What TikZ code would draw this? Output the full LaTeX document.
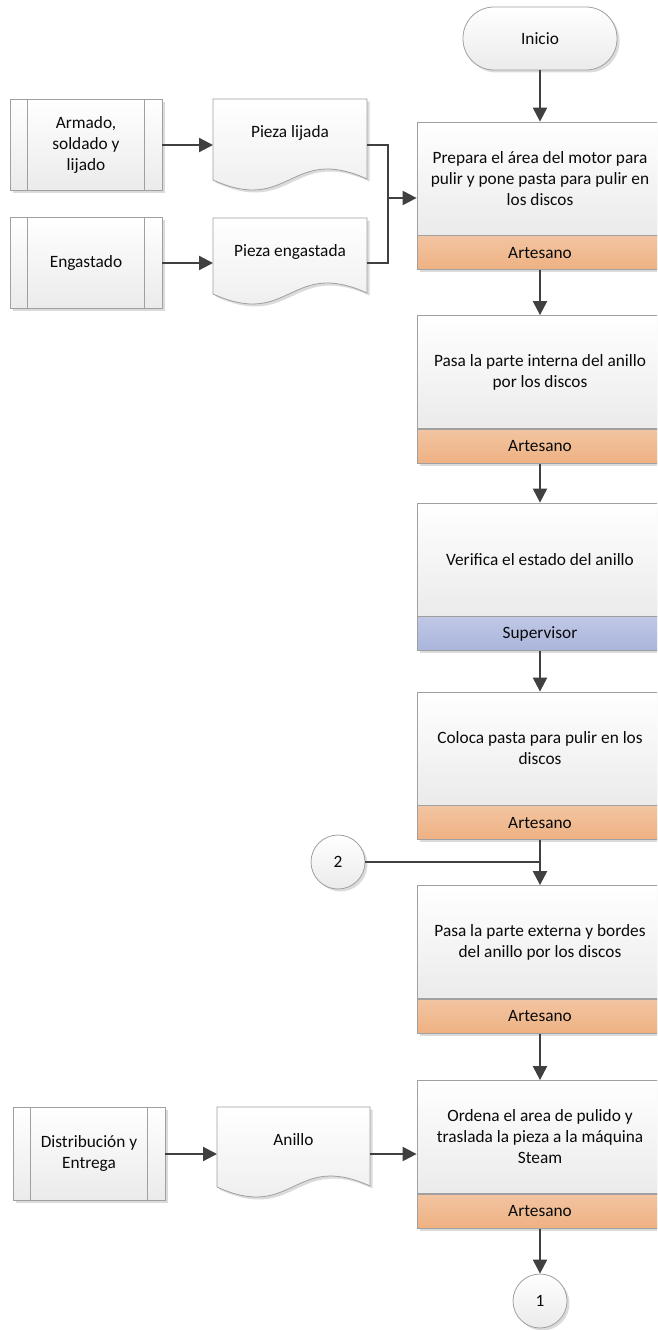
\documentclass[tikz,border=0pt]{standalone}
\usepackage{fontspec}
\setmainfont{Carlito}
\usetikzlibrary{arrows.meta,shadows}
\definecolor{ln}{HTML}{404040}
\definecolor{bd}{HTML}{A0A0A0}
\definecolor{orng}{HTML}{EEB182}
\definecolor{blu}{HTML}{AAB5DC}
\definecolor{txt}{HTML}{0A0A0A}
\tikzset{
  shp/.style={draw=bd, line width=0.8pt, top color=white, bottom color=black!8,
    drop shadow={shadow xshift=2.5pt, shadow yshift=-2.5pt, opacity=0.2, fill=black!70}},
  txtf/.style={font=\fontsize{17.3}{21}\selectfont, text=txt, align=center},
  task/.style={shp, txtf, minimum width=246pt, minimum height=113pt, inner sep=0pt},
  lane/.style={draw=bd, line width=0.8pt, txtf, minimum width=246pt, minimum height=34pt, inner sep=0pt,
    drop shadow={shadow xshift=2.5pt, shadow yshift=-2.5pt, opacity=0.2, fill=black!70}},
  art/.style={lane, top color=orng!75!white, bottom color=orng},
  sup/.style={lane, top color=blu!75!white, bottom color=blu},
  subp/.style={shp, txtf, minimum width=152pt, minimum height=91pt, inner sep=0pt},
  term/.style={shp, txtf, minimum width=154pt, minimum height=63pt, rounded corners=31pt, inner sep=0pt},
  conc/.style={shp, txtf, circle, minimum size=54pt, inner sep=0pt},
  conn/.style={line width=2.2pt, draw=ln},
  arr/.style={conn, -{Triangle[length=14pt,width=14pt]}},
  inl/.style={draw=bd, line width=0.8pt},
}
\begin{document}
\begin{tikzpicture}[x=1pt,y=-1pt]
\clip (0,0) rectangle (657,1330);
\fill[white] (0,0) rectangle (657,1330);

% start
\node[term] (ini) at (540,38.5) {Inicio};

% task boxes
\node[task] (b1) at (540,178.5) {Prepara el área del motor para\\pulir y pone pasta para pulir en\\los discos};
\node[art, anchor=north] (b1l) at (b1.south) {Artesano};
\node[task] (b2) at (540,372) {Pasa la parte interna del anillo\\por los discos};
\node[art, anchor=north] (b2l) at (b2.south) {Artesano};
\node[task] (b3) at (540,559.5) {Verifica el estado del anillo};
\node[sup, anchor=north] (b3l) at (b3.south) {Supervisor};
\node[task] (b4) at (540,748.5) {Coloca pasta para pulir en los\\discos};
\node[art, anchor=north] (b4l) at (b4.south) {Artesano};
\node[task] (b5) at (540,942) {Pasa la parte externa y bordes\\del anillo por los discos};
\node[art, anchor=north] (b5l) at (b5.south) {Artesano};
\node[task] (b6) at (540,1137) {Ordena el area de pulido y\\traslada la pieza a la máquina\\Steam};
\node[art, anchor=north] (b6l) at (b6.south) {Artesano};

% connectors (off-page)
\node[conc] (c2) at (338,862) {2};
\node[conc] (c1) at (540,1301) {1};

% subprocesses
\node[subp] (s1) at (86,145) {Armado,\\soldado y\\lijado};
\node[subp] (s2) at (86,263) {Engastado};
\node[subp, minimum height=93pt] (s3) at (89,1153.5) {Distribución y\\Entrega};
\foreach \s in {s1,s2,s3}{
  \draw[inl] ([xshift=18pt]\s.north west) -- ([xshift=18pt]\s.south west);
  \draw[inl] ([xshift=-18pt]\s.north east) -- ([xshift=-18pt]\s.south east);
}

% documents
\path[shp] (213,99) -- (367,99) -- (367,179) .. controls (290,144) and (290,215) .. (213,180) -- cycle;
\node[txtf] (d1) at (290,133) {Pieza lijada};
\path[shp] (213,218) -- (367,218) -- (367,293) .. controls (290,258) and (290,329) .. (213,294) -- cycle;
\node[txtf] (d2) at (290,252) {Pieza engastada};
\path[shp] (217,1107) -- (370,1107) -- (370,1186) .. controls (293.5,1151) and (293.5,1222) .. (217,1187) -- cycle;
\node[txtf] (d3) at (293.5,1140) {Anillo};

\coordinate (d1w) at (213,145);
\coordinate (d1e) at (367,145);
\coordinate (d2w) at (213,263);
\coordinate (d2e) at (367,263);
\coordinate (d3w) at (217,1154);
\coordinate (d3e) at (370,1154);
\coordinate (mx) at (388,198);

% flows
\draw[arr] (ini) -- (b1);
\draw[arr] (b1l) -- (b2);
\draw[arr] (b2l) -- (b3);
\draw[arr] (b3l) -- (b4);
\draw[arr] (b4l) -- (b5);
\coordinate (j2) at (b4l.south |- c2.east);
\draw[conn] (c2.east) -- (j2);
\draw[arr] (b5l) -- (b6);
\draw[arr] (b6l) -- (c1);

\draw[arr] (s1.east |- d1w) -- (d1w);
\draw[arr] (s2.east |- d2w) -- (d2w);
\draw[conn] (d1e) -| (mx) |- (d2e);
\draw[arr] (mx) -- (mx -| b1.west);

\draw[arr] (s3.east |- d3w) -- (d3w);
\draw[arr] (d3e) -- (d3e -| b6.west);
\end{tikzpicture}
\end{document}
